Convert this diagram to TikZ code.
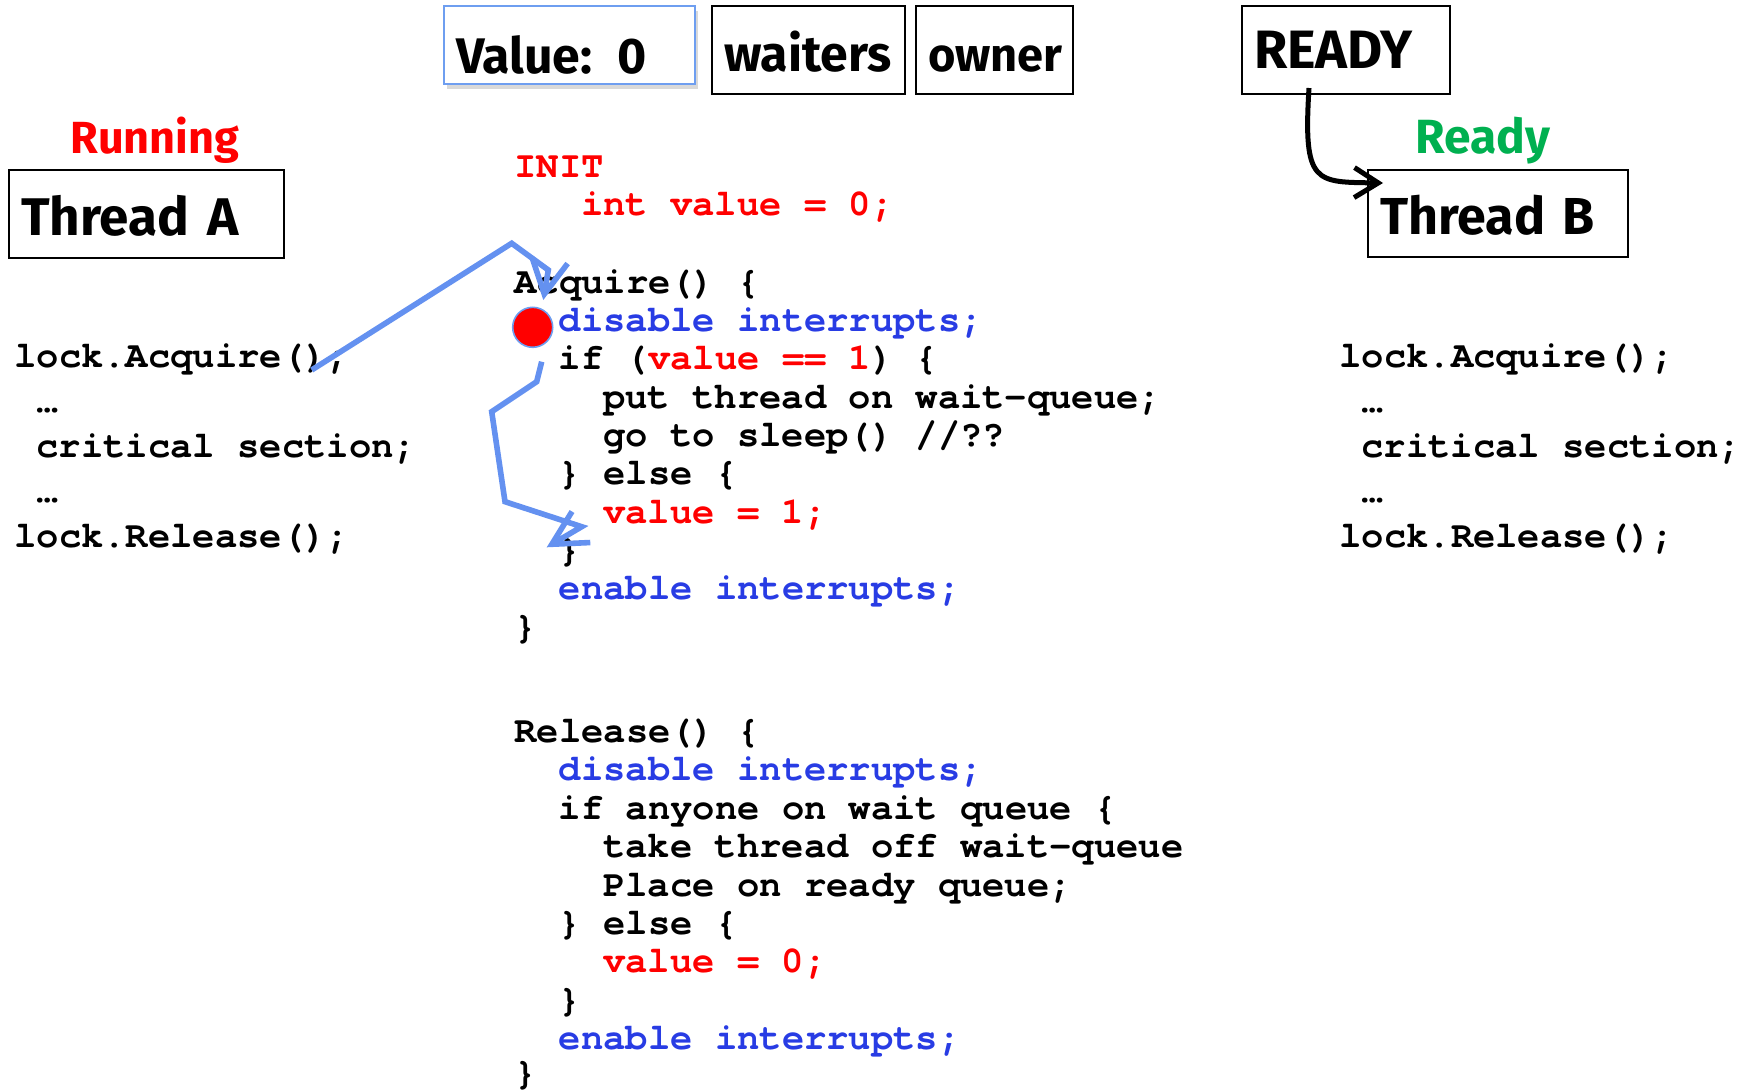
\documentclass[tikz,border=0pt]{standalone}
\usepackage{fontspec}
\setmainfont{Fira Sans}
\newfontfamily\comic{Fira Sans}
\newfontfamily\code{texgyrecursor}[Extension=.otf, UprightFont=*-regular, BoldFont=*-bold, Ligatures=NoCommon]
\usetikzlibrary{arrows.meta,shadows}
\definecolor{cred}{RGB}{255,0,0}
\definecolor{cblue}{RGB}{40,60,228}
\definecolor{cgreen}{RGB}{0,176,80}
\definecolor{arrblue}{RGB}{100,145,240}
\definecolor{boxblue}{RGB}{110,158,240}
\begin{document}
\begin{tikzpicture}[x=0.5pt,y=-0.5pt,
  tbox/.style={draw, line width=1pt, fill=white, font=\comic\bfseries\fontsize{#1}{30pt}\selectfont,
     align=left, inner xsep=6pt, inner ysep=0pt, text height=21pt, text depth=0pt},
  state/.style={font=\comic\bfseries\fontsize{#1}{30pt}\selectfont, anchor=base west, inner sep=0pt},
  cl/.style={font=\code\bfseries\fontsize{18.6pt}{20pt}\selectfont, anchor=base west, inner sep=0pt},
  arr/.style={draw=arrblue, line width=2.8pt, -{Straight Barb[length=17pt,width=18pt]}},
  blk/.style={draw=black, line width=2.5pt, -{Straight Barb[length=12pt,width=15pt]}}
]
\useasboundingbox (0,0) rectangle (1752,1092);

% top boxes
\node[tbox=25pt, draw=boxblue, line width=0.8pt, minimum width=125.5pt, minimum height=39pt,
      text width=113.5pt, text height=28pt,
      drop shadow={shadow xshift=1.5pt, shadow yshift=-2.5pt, opacity=0.15, fill=black}]
      (value) at (569.5,45) {Value: 0};
\node[tbox=25pt, minimum width=96.5pt, minimum height=44pt, text width=84.5pt] (waiters) at (808.5,50) {waiters};
\node[tbox=23.5pt, minimum width=78.5pt, minimum height=44pt, text width=66.5pt] (owner) at (994.5,50) {owner};
\node[tbox=27pt, minimum width=104pt, minimum height=44pt, text width=92pt, text height=18.6pt] (readyq) at (1346,50) {READY};

% threads
\node[tbox=26.5pt, minimum width=137.5pt, minimum height=44pt, text width=125.5pt] (tA) at (146.5,214) {Thread A};
\node[tbox=26pt, minimum width=130pt, minimum height=43.5pt, text width=118pt] (tB) at (1498,213.5) {Thread B};
\node[state=22.5pt, text=cred] (running) at (70,153) {Running};
\node[state=24pt, text=cgreen] (ready) at (1415,153) {Ready};

% left code
\node[cl] (l1) at (14,367) {lock.Acquire();};
\node[cl] (l2) at (36.2,412) {…};
\node[cl] (l3) at (36.2,457) {critical section;};
\node[cl] (l4) at (36.2,502) {…};
\node[cl] (l5) at (14,547) {lock.Release();};

% right code
\node[cl] (r1) at (1339,367) {lock.Acquire();};
\node[cl] (r2) at (1361.2,412) {…};
\node[cl] (r3) at (1361.2,457) {critical section;};
\node[cl] (r4) at (1361.2,502) {…};
\node[cl] (r5) at (1339,547) {lock.Release();};

% middle code: init + acquire
\node[cl, text=cred] (m1) at (514,177) {INIT};
\node[cl, text=cred] (m2) at (580.6,215) {int value = 0;};
\node[cl] (m3) at (514,293) {Acquire() \{};
\node[cl, text=cblue] (m4) at (558.4,331) {disable interrupts;};
\node[cl] (m5) at (558.4,369.5) {if (\textcolor{cred}{value == 1}) \{};
\node[cl] (m6) at (602.8,408) {put thread on wait-queue;};
\node[cl] (m7) at (602.8,446) {go to sleep() //??};
\node[cl] (m8) at (558.4,484.5) {\} else \{};
\node[cl, text=cred] (m9) at (602.8,523) {value = 1;};
\node[cl] (m10) at (558.4,561) {\}};
\node[cl, text=cblue] (m11) at (558.4,599.5) {enable interrupts;};
\node[cl] (m12) at (514,638) {\}};

% release
\node[cl] (n1) at (514,742) {Release() \{};
\node[cl, text=cblue] (n2) at (558.4,780) {disable interrupts;};
\node[cl] (n3) at (558.4,819) {if anyone on wait queue \{};
\node[cl] (n4) at (602.8,857) {take thread off wait-queue};
\node[cl] (n5) at (602.8,896) {Place on ready queue;};
\node[cl] (n6) at (558.4,934) {\} else \{};
\node[cl, text=cred] (n7) at (602.8,972) {value = 0;};
\node[cl] (n8) at (558.4,1011) {\}};
\node[cl, text=cblue] (n9) at (558.4,1049) {enable interrupts;};
\node[cl] (n10) at (514,1084) {\}};

% red dot
\node[circle, fill=cred, draw=boxblue, line width=0.8pt, minimum size=20pt, inner sep=0pt] (dot) at (532.7,327.3) {};

% blue arrows
\coordinate (a1s) at (311.7,370);
\coordinate (a1b) at (511.7,243.3);
\coordinate (a1c) at (548.3,270);
\coordinate (a1e) at (543.3,300);
\draw[arr] (a1s) -- (a1b) -- (a1c) -- (a1e);

\coordinate (a2s) at (541.7,361.7);
\coordinate (a2b) at (536.7,381.7);
\coordinate (a2c) at (491.7,411.7);
\coordinate (a2d) at (505,501.7);
\coordinate (a2f) at (581.7,526.7);
\coordinate (a2e) at (546.7,547.3);
\draw[arr] (a2s) -- (a2b) -- (a2c) -- (a2d) -- (a2f) -- (a2e);

% black arrow READY -> Thread B
\coordinate (bs) at (1309,88);
\coordinate (be) at (1383,183);
\draw[blk] (bs) .. controls (1303,185) and (1315,182) .. (be);
\end{tikzpicture}
\end{document}
